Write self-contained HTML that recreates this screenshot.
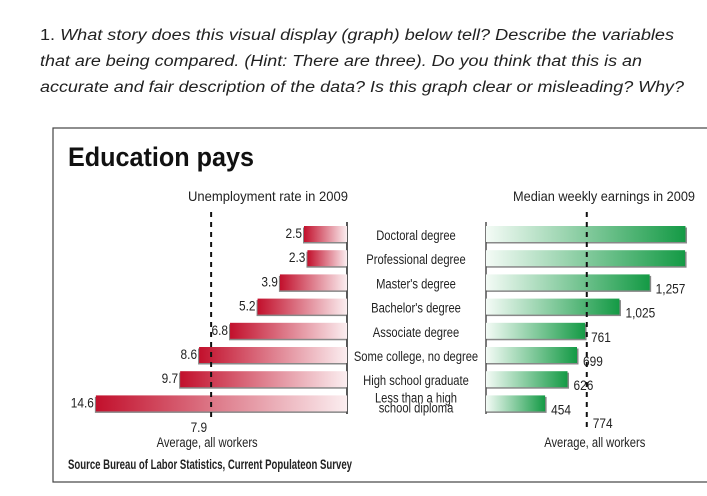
<!DOCTYPE html>
<html><head><meta charset="utf-8"><style>
html,body{margin:0;padding:0;background:#fff;width:707px;height:496px;overflow:hidden}
svg{display:block}
.q{font-family:"Liberation Sans",sans-serif;font-style:italic;font-size:15.5px;fill:#222}
.n{font-family:"Liberation Sans",sans-serif;font-size:14px;fill:#222}
</style></head><body>
<svg id="s" width="707" height="496">
<defs>
<linearGradient id="rg" x1="0" x2="1" y1="0" y2="0"><stop offset="0" stop-color="#c2102c"/><stop offset="1" stop-color="#fbeef0"/></linearGradient>
<linearGradient id="gg" x1="0" x2="1" y1="0" y2="0"><stop offset="0" stop-color="#f4fbf6"/><stop offset="1" stop-color="#149a45"/></linearGradient>
<clipPath id="cp"><rect x="0" y="0" width="690" height="496"/></clipPath>
</defs>
<g>
<text class="q" x="40" y="40" textLength="634" lengthAdjust="spacingAndGlyphs"><tspan font-style="normal">1.  </tspan>What story does this visual display (graph) below tell? Describe the variables</text>
<text class="q" x="40" y="66" textLength="602" lengthAdjust="spacingAndGlyphs">that are being compared. (Hint: There are three). Do you think that this is an</text>
<text class="q" x="40" y="92" textLength="644" lengthAdjust="spacingAndGlyphs">accurate and fair description of the data? Is this graph clear or misleading? Why?</text>
</g>
<rect x="53" y="128" width="700" height="354" fill="none" stroke="#444" stroke-width="1.2"/>
<text x="68" y="166" font-family="Liberation Sans,sans-serif" font-weight="bold" font-size="27" textLength="186" lengthAdjust="spacingAndGlyphs" fill="#111">Education pays</text>
<text class="n" x="188" y="201" font-size="13.5" textLength="160" lengthAdjust="spacingAndGlyphs">Unemployment rate in 2009</text>
<text class="n" x="513" y="201" font-size="13.5" textLength="182" lengthAdjust="spacingAndGlyphs">Median weekly earnings in 2009</text>
<text class="n" x="68" y="469" font-size="9" font-weight="bold" textLength="284" lengthAdjust="spacingAndGlyphs">Source Bureau of Labor Statistics, Current Populateon Survey</text>
<g id="chart" clip-path="url(#cp)"></g>
</svg>
<script>
const categories=["Doctoral degree","Professional degree","Master's degree","Bachelor's degree","Associate degree","Some college, no degree","High school graduate","Less than a high|school diploma"];
const unemployment=[2.5,2.3,3.9,5.2,6.8,8.6,9.7,14.6];
const unemploymentLabels=["2.5","2.3","3.9","5.2","6.8","8.6","9.7","14.6"];
const earnings=[1532,1529,1257,1025,761,699,626,454];
const earningsLabels=["1,532","1,529","1,257","1,025","761","699","626","454"];
const avgUnemployment=7.9;
const avgEarnings=774;

const NS="http://www.w3.org/2000/svg";
const g=document.getElementById('chart');
function mk(t,a,p){const e=document.createElementNS(NS,t);for(const k in a)e.setAttribute(k,a[k]);(p||g).appendChild(e);return e;}
function narrow(e,x,s){e.setAttribute('transform','translate('+x+',0) scale('+(s||0.8)+',1) translate('+(-x)+',0)');}
const LX=347, RX=486, uS=17.2, eS=0.1302;
const xU=v=>LX-v*uS, xE=v=>RX+v*eS;
const yRow=i=>234+i*24.2;
const BH=16;
let a=mk('line',{x1:LX,x2:LX,y1:222,y2:414,stroke:'#222','stroke-width':1.5});


a=mk('line',{x1:RX,x2:RX,y1:222,y2:414,stroke:'#222','stroke-width':1.2});


categories.forEach((c,i)=>{
  const y=yRow(i);
  const x0=xU(unemployment[i]);
  const sh=mk('rect',{x:x0-1,y:y-BH/2+1.5,width:LX-x0+1,height:BH,fill:'#555',opacity:0.7});
  
  
  const b=mk('rect',{x:x0,y:y-BH/2,width:LX-x0,height:BH,fill:'url(#rg)'});
  
  
  const t=mk('text',{x:x0-2,y:y+4,'text-anchor':'end',class:'n'});
  t.textContent=unemploymentLabels[i];
  narrow(t,x0-2,0.85);
  
  
  const x1=xE(earnings[i]);
  const sh2=mk('rect',{x:RX,y:y-BH/2+1.5,width:x1-RX+1.5,height:BH,fill:'#555',opacity:0.7});
  
  
  const b2=mk('rect',{x:RX,y:y-BH/2,width:x1-RX,height:BH,fill:'url(#gg)'});
  
  
  const t2=mk('text',{x:x1+6,y:y+11,class:'n'});
  t2.textContent=earningsLabels[i];
  narrow(t2,x1+6,0.85);
  
  
  const parts=c.split('|');
  parts.forEach((p,j)=>{
    const ct=mk('text',{x:416,y:(parts.length>1? y-1+j*10 : y+6),'text-anchor':'middle',class:'n','font-size':15.5});
    ct.textContent=p;
    narrow(ct,416,0.8);
    
    
  });
});
const ax=xU(avgUnemployment);
let d=mk('line',{x1:ax,x2:ax,y1:212,y2:422,stroke:'#111','stroke-width':2,'stroke-dasharray':'5,5'});


let t=mk('text',{x:ax-4,y:432,'text-anchor':'end',class:'n'});
t.textContent=String(avgUnemployment);
narrow(t,ax-4,0.85);


t=mk('text',{x:ax-4,y:447,'text-anchor':'middle',class:'n','font-size':16.5});
t.textContent='Average, all workers';
narrow(t,ax-4,0.8);


const ex=xE(avgEarnings);
d=mk('line',{x1:ex,x2:ex,y1:212,y2:432,stroke:'#111','stroke-width':2,'stroke-dasharray':'5,5'});


t=mk('text',{x:ex+6,y:428,class:'n'});
t.textContent=String(avgEarnings);
narrow(t,ex+6,0.85);


t=mk('text',{x:ex+8,y:447,'text-anchor':'middle',class:'n','font-size':16.5});
t.textContent='Average, all workers';
narrow(t,ex+8,0.8);


</script>
</body></html>
